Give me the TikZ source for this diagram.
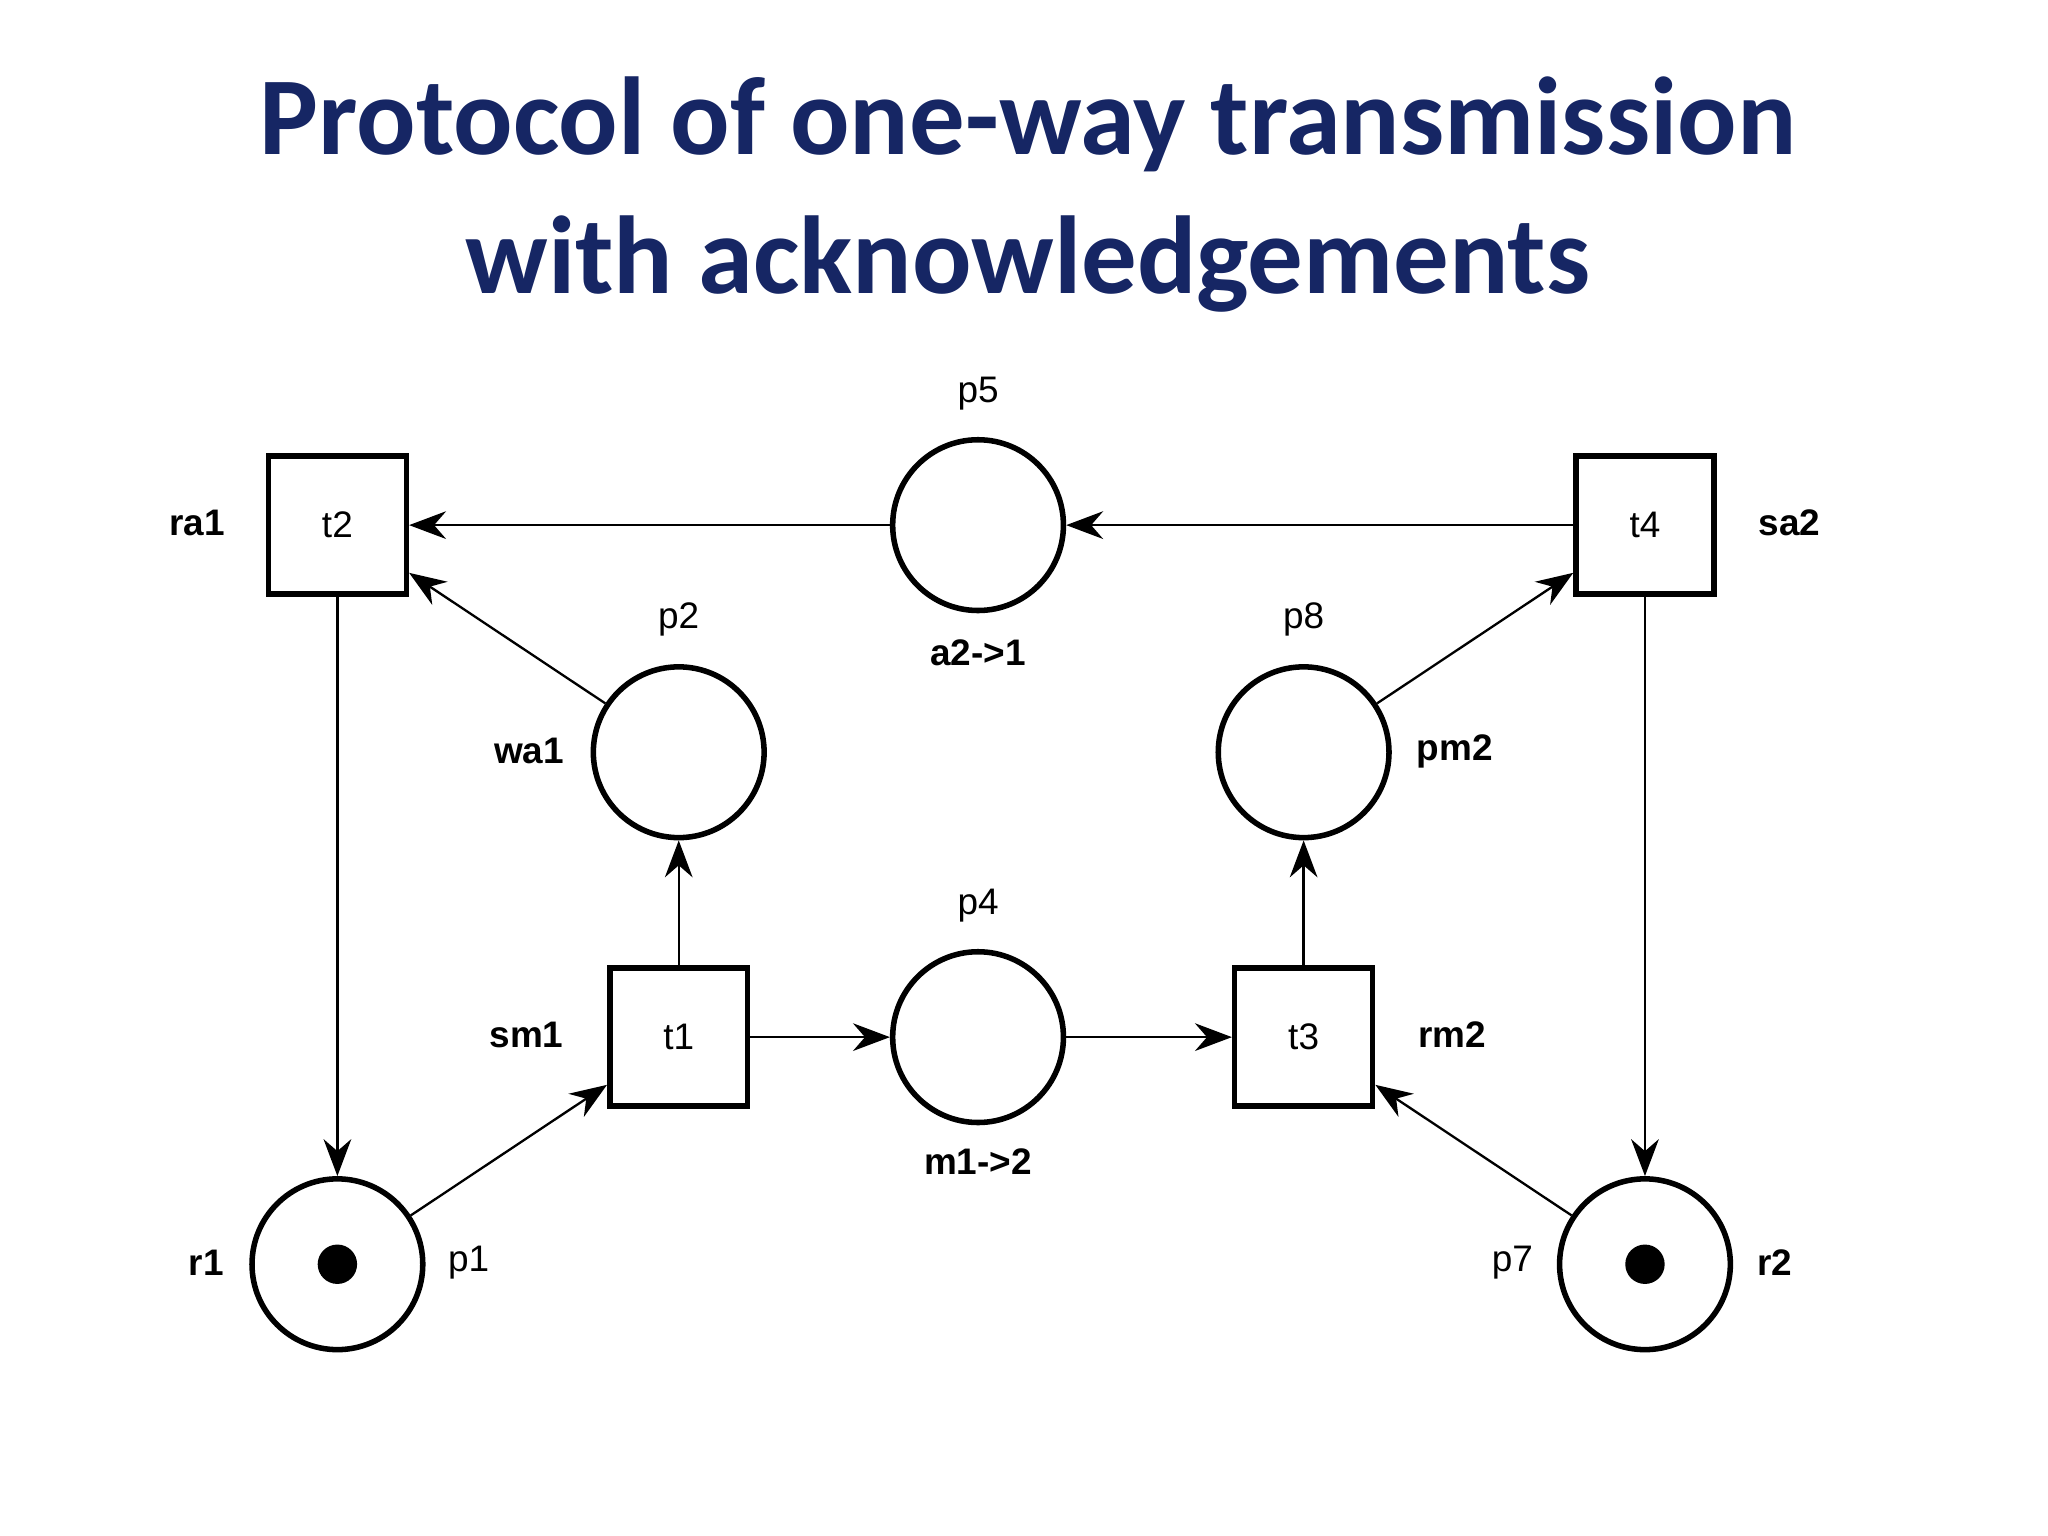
\documentclass[tikz,border=0pt]{standalone}
\usepackage{fontspec}
\setmainfont{Liberation Sans}
\newfontfamily\titlefont{Carlito}
\usetikzlibrary{arrows.meta}
\definecolor{titleblue}{RGB}{22,38,100}
\begin{document}
\begin{tikzpicture}[x=0.01cm,y=-0.01cm,
	place/.style={circle,draw,line width=1.2pt,minimum size=1.3cm,inner sep=0pt},
	trans/.style={rectangle,draw,line width=1.2pt,minimum size=1.05cm,inner sep=0pt,font=\fontsize{8}{9}\selectfont},
	token/.style={circle,fill,minimum size=0.3cm,inner sep=0pt},
	lbl/.style={font=\fontsize{8}{9}\selectfont},
	blbl/.style={font=\fontsize{8}{9}\selectfont\bfseries},
	arc/.style={-{Stealth[length=8pt,width=6pt]},line width=0.5pt}]
	\useasboundingbox (0,0) rectangle (1560,1170);
	% Title
	\node[font=\titlefont\fontsize{24}{28}\selectfont\bfseries,text=titleblue,align=center] (title) at (783,148)
		{Protocol of one-way transmission\\[2pt]with acknowledgements};

	% Transitions
	\node[trans] (t2) at (257,400) {t2};
	\node[trans] (t4) at (1253,400) {t4};
	\node[trans] (t1) at (517,790) {t1};
	\node[trans] (t3) at (993,790) {t3};

	% Places
	\node[place] (p5) at (745,400) {};
	\node[place] (p2) at (517,573) {};
	\node[place] (p8) at (993,573) {};
	\node[place] (p4) at (745,790) {};
	\node[place] (p1) at (257,963) {};
	\node[place] (p7) at (1253,963) {};
	\node[token] (k1) at (p1) {};
	\node[token] (k7) at (p7) {};

	% Labels
	\node[lbl] (lp5) at (745,300) {p5};
	\node[blbl] (la21) at (745,497) {a2->1};
	\node[blbl] (lra1) at (150,398) {ra1};
	\node[blbl] (lsa2) at (1363,398) {sa2};
	\node[lbl] (lp2) at (517,472) {p2};
	\node[blbl] (lwa1) at (403,572) {wa1};
	\node[lbl] (lp8) at (993,472) {p8};
	\node[blbl] (lpm2) at (1108,572) {pm2};
	\node[lbl] (lp4) at (745,690) {p4};
	\node[blbl] (lm12) at (745,885) {m1->2};
	\node[blbl] (lsm1) at (401,788) {sm1};
	\node[blbl] (lrm2) at (1106,788) {rm2};
	\node[blbl] (lr1) at (157,962) {r1};
	\node[lbl] (lp1) at (357,962) {p1};
	\node[lbl] (lp7) at (1152,962) {p7};
	\node[blbl] (lr2) at (1352,962) {r2};

	% Arcs
	\draw[arc] (t4) -- (p5);
	\draw[arc] (p5) -- (t2);
	\draw[arc] (p2) -- (t2);
	\draw[arc] (t2) -- (p1);
	\draw[arc] (p1) -- (t1);
	\draw[arc] (t1) -- (p2);
	\draw[arc] (t1) -- (p4);
	\draw[arc] (p4) -- (t3);
	\draw[arc] (t3) -- (p8);
	\draw[arc] (p8) -- (t4);
	\draw[arc] (t4) -- (p7);
	\draw[arc] (p7) -- (t3);
\end{tikzpicture}
\end{document}
